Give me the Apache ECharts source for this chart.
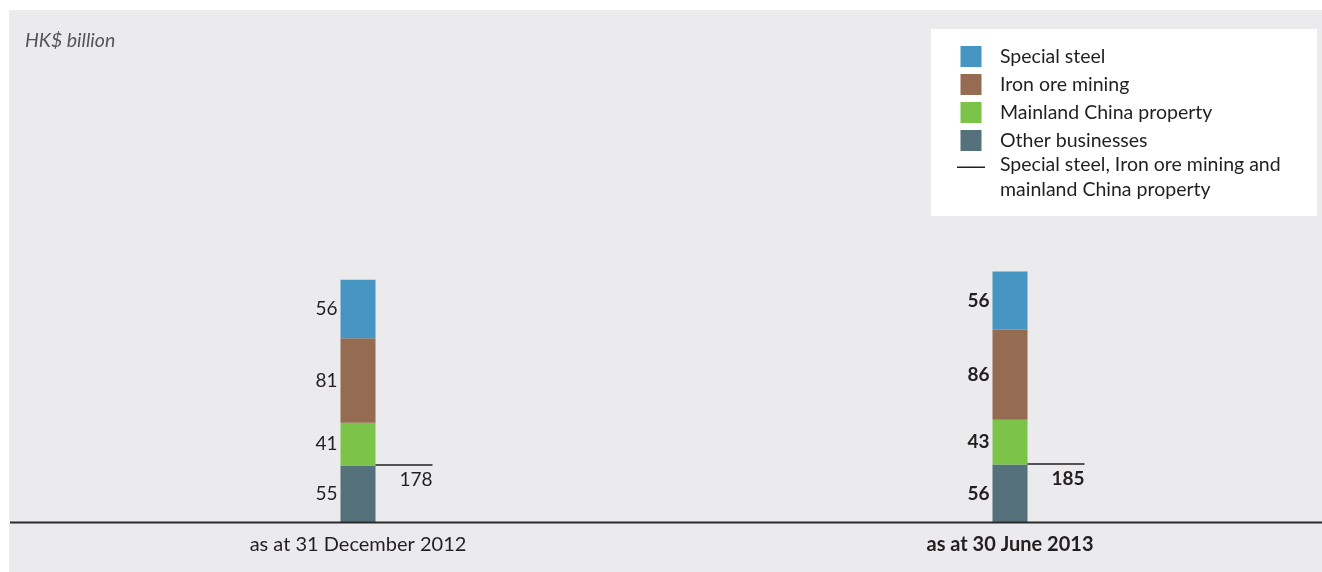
<!DOCTYPE html>
<html>
<head>
<meta charset="utf-8">
<title>HK$ billion by business</title>
<script src="https://cdn.jsdelivr.net/npm/echarts@6/dist/echarts.min.js"></script>
<style>
  html, body { margin: 0; padding: 0; background: #ffffff; }
  #chart { width: 1322px; height: 572px; }
</style>
</head>
<body>
<div id="chart"></div>
<script>
// Reporting dates (x categories)
const categories = ['as at 31 December 2012', 'as at 30 June 2013'];

// Segment values, HK$ billion
const specialSteel = [56, 56];
const ironOreMining = [81, 86];
const mainlandProperty = [41, 43];
const otherBusinesses = [55, 56];

// Combined special steel + iron ore mining + mainland China property
const coreTotals = [178, 185];

const FONT = 'Lato, "Open Sans", sans-serif';
const TEXT = '#231f20';
const BAR_W = 35;
const latest = categories.length - 1;

const COLORS = {
  steel: '#4795c2',
  iron: '#956b52',
  property: '#7cc34a',
  other: '#55717b'
};

const CORE_NAME = 'Special steel, Iron ore mining and mainland China property';

// Legend icons share a 28x21 box; corner specks pin the path bounds to that box
const SQUARE_ICON = 'path://M0,0H0.01V0.01H0Z M3.5,0H24.5V21H3.5Z M27.99,20.99H28V21H27.99Z';
const LINE_ICON = 'path://M0,0H28V1.4H0Z M27.99,20.99H28V21H27.99Z';

function barSeries(name, values, color) {
  return {
    name: name,
    type: 'bar',
    stack: 'assets',
    barWidth: BAR_W,
    itemStyle: { color: color },
    label: {
      show: true,
      position: 'left',
      distance: 3,
      fontFamily: FONT,
      fontSize: 19,
      color: TEXT
    },
    emphasis: { disabled: true },
    data: values.map((v, i) => ({
      value: v,
      label: i === latest ? { fontWeight: 'bold' } : { fontWeight: 'normal' }
    }))
  };
}

// The bracket line sits where the core businesses begin (stack top minus core total)
const stackTops = categories.map((_, i) =>
  specialSteel[i] + ironOreMining[i] + mainlandProperty[i] + otherBusinesses[i]);
const coreLineData = categories.map((_, i) => [i, stackTops[i] - coreTotals[i], coreTotals[i]]);

const legendText = { fontFamily: FONT, fontSize: 19.5, color: TEXT, padding: [0, 0, 0, 10] };

const chart = echarts.init(document.getElementById('chart'), null, { renderer: 'canvas' });

chart.setOption({
  backgroundColor: '#ffffff',
  animation: false,
  graphic: [
    { type: 'rect', silent: true, z: -10,
      shape: { x: 9, y: 10, width: 1313, height: 562 },
      style: { fill: '#ebebed' } },
    { type: 'rect', silent: true, z: -5,
      shape: { x: 931, y: 29, width: 386, height: 187 },
      style: { fill: '#ffffff' } },
    { type: 'text', silent: true, left: 25, top: 31,
      style: { text: 'HK$ billion', fontFamily: FONT, fontStyle: 'italic',
               fontSize: 19.5, fill: '#555555' } },
    { type: 'line', silent: true, z: 100,
      shape: { x1: 10, y1: 522.5, x2: 1322, y2: 522.5 },
      style: { stroke: '#2b2b2b', lineWidth: 2 } }
  ],
  legend: [
    {
      orient: 'vertical',
      left: 957,
      top: 46,
      padding: 0,
      itemWidth: 28,
      itemHeight: 21,
      itemGap: 7,
      selectedMode: false,
      textStyle: Object.assign({ lineHeight: 21 }, legendText),
      data: [
        { name: 'Special steel', icon: SQUARE_ICON },
        { name: 'Iron ore mining', icon: SQUARE_ICON },
        { name: 'Mainland China property', icon: SQUARE_ICON },
        { name: 'Other businesses', icon: SQUARE_ICON }
      ]
    },
    {
      orient: 'vertical',
      left: 957,
      top: 152,
      padding: 0,
      itemWidth: 28,
      itemHeight: 21,
      selectedMode: false,
      textStyle: Object.assign({ lineHeight: 25 }, legendText),
      formatter: name => name.replace(' mainland', '\nmainland'),
      data: [{ name: CORE_NAME, icon: LINE_ICON }]
    }
  ],
  grid: { left: 32, width: 1304, top: 262, bottom: 49, outerBoundsMode: 'none', containLabel: false },
  xAxis: {
    type: 'category',
    data: categories.map((c, i) => i === latest ? { value: c, textStyle: { fontWeight: 'bold' } } : c),
    axisLine: { show: false },
    axisTick: { show: false },
    axisLabel: { fontFamily: FONT, fontSize: 20, color: TEXT, margin: 12 }
  },
  yAxis: {
    type: 'value',
    min: 0,
    max: 250,
    show: false,
    splitLine: { show: false }
  },
  series: [
    barSeries('Other businesses', otherBusinesses, COLORS.other),
    barSeries('Mainland China property', mainlandProperty, COLORS.property),
    barSeries('Iron ore mining', ironOreMining, COLORS.iron),
    barSeries('Special steel', specialSteel, COLORS.steel),
    {
      name: CORE_NAME,
      type: 'custom',
      itemStyle: { color: TEXT },
      silent: true,
      z: 5,
      data: coreLineData,
      renderItem: function (params, api) {
        const p = api.coord([api.value(0), api.value(1)]);
        const x0 = p[0] + BAR_W / 2;
        const len = 57;
        const bold = api.value(0) === latest;
        return {
          type: 'group',
          children: [
            { type: 'line',
              shape: { x1: x0, y1: p[1] - 0.5, x2: x0 + len, y2: p[1] - 0.5 },
              style: { stroke: TEXT, lineWidth: 1.5 } },
            { type: 'text',
              style: { text: String(api.value(2)), x: x0 + len, y: p[1] + 14,
                       align: 'right', verticalAlign: 'middle',
                       fontFamily: FONT, fontSize: 19,
                       fontWeight: bold ? 'bold' : 'normal', fill: TEXT } }
          ]
        };
      }
    }
  ]
});
</script>
</body>
</html>
